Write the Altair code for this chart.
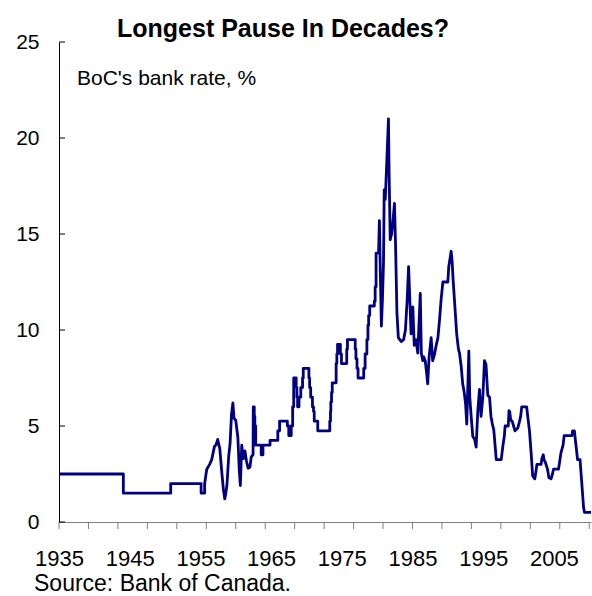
import altair as alt
import pandas as pd

# Bank of Canada bank rate (%), turning points; repeated dates mark discrete rate changes
years = [
    1935.0, 1944.1, 1944.1, 1950.8, 1950.8, 1955.1, 1955.1, 1955.6, 1955.6,
    1955.8, 1955.9, 1956.3, 1956.6, 1956.8, 1957.0, 1957.2, 1957.45, 1957.6,
    1957.75, 1958.0, 1958.25, 1958.45, 1958.55, 1958.75, 1959.0, 1959.2, 1959.4,
    1959.6, 1959.75, 1960.0, 1960.3, 1960.5, 1960.65, 1960.85, 1961.05, 1961.3,
    1961.5, 1961.75, 1962.0, 1962.2, 1962.45, 1962.48, 1962.62, 1962.62, 1962.7,
    1962.7, 1962.82, 1962.82, 1963.6, 1963.6, 1963.85, 1963.85, 1964.85, 1964.85,
    1965.95, 1965.95, 1966.2, 1966.2, 1967.3, 1967.3, 1967.5, 1967.5, 1967.85,
    1967.85, 1968.05, 1968.05, 1968.2, 1968.2, 1968.55, 1968.55, 1968.65, 1968.65,
    1968.75, 1968.75, 1968.95, 1968.95, 1969.2, 1969.2, 1969.45, 1969.45, 1969.55,
    1969.55, 1970.35, 1970.35, 1970.45, 1970.45, 1970.6, 1970.6, 1970.85, 1970.85,
    1971.0, 1971.0, 1971.1, 1971.1, 1971.6, 1971.6, 1973.3, 1973.3, 1973.4,
    1973.4, 1973.45, 1973.45, 1973.55, 1973.55, 1973.65, 1973.65, 1974.2, 1974.2,
    1974.3, 1974.3, 1974.4, 1974.4, 1974.8, 1974.8, 1974.95, 1974.95, 1975.7,
    1975.7, 1975.8, 1975.8, 1976.9, 1976.9, 1977.0, 1977.0, 1977.15, 1977.15,
    1977.3, 1977.3, 1978.1, 1978.1, 1978.3, 1978.3, 1978.55, 1978.55, 1978.7,
    1978.7, 1978.8, 1978.8, 1978.95, 1978.95, 1979.6, 1979.6, 1979.72, 1979.72,
    1979.85, 1979.85, 1980.2, 1980.32, 1980.45, 1980.6, 1980.75, 1980.9, 1981.0,
    1981.15, 1981.4, 1981.6, 1981.7, 1981.85, 1982.05, 1982.2, 1982.45, 1982.6,
    1982.8, 1983.0, 1983.4, 1983.75, 1984.0, 1984.25, 1984.45, 1984.55, 1984.8,
    1985.05, 1985.25, 1985.5, 1985.75, 1986.1, 1986.25, 1986.45, 1986.6, 1986.8,
    1987.0, 1987.15, 1987.35, 1987.64, 1987.85, 1988.1, 1988.35, 1988.6, 1988.82,
    1989.05, 1989.3, 1990.0, 1990.13, 1990.47, 1990.6, 1990.75, 1991.0, 1991.25,
    1991.5, 1991.65, 1991.89, 1992.1, 1992.3, 1992.5, 1992.68, 1992.97, 1993.1,
    1993.3, 1993.53, 1993.8, 1994.0, 1994.24, 1994.48, 1994.7, 1994.95, 1995.18,
    1995.4, 1995.65, 1995.9, 1996.1, 1996.3, 1996.5, 1996.85, 1997.55, 1997.8,
    1998.0, 1998.1, 1998.55, 1998.65, 1998.75, 1998.9, 1999.1, 1999.3, 1999.5,
    1999.9, 2000.15, 2000.3, 2000.45, 2001.15, 2001.3, 2001.55, 2001.8, 2002.0,
    2002.3, 2002.45, 2002.6, 2003.2, 2003.3, 2003.5, 2003.6, 2003.8, 2004.1,
    2004.3, 2004.6, 2004.8, 2004.95, 2005.65, 2005.8, 2006.0, 2006.3, 2006.45,
    2007.55, 2007.65, 2007.9, 2008.0, 2008.2, 2008.35, 2008.7, 2008.85, 2009.0,
    2009.1, 2009.2, 2009.33, 2010.25,
]
rates = [
    2.5, 2.5, 1.5, 1.5, 2.0, 2.0, 1.5, 1.5, 2.0,
    2.5, 2.75, 3.0, 3.25, 3.6, 3.95, 4.0, 4.3, 4.05,
    3.8, 2.7, 1.7, 1.2, 1.4, 1.9, 3.4, 4.1, 5.6,
    6.2, 5.4, 5.3, 4.4, 2.7, 1.9, 4.0, 3.3, 3.7,
    3.2, 2.8, 2.85, 3.4, 3.5, 6.0, 6.0, 5.5, 5.5,
    5.0, 5.0, 4.0, 4.0, 3.5, 3.5, 4.0, 4.0, 4.25,
    4.25, 4.75, 4.75, 5.25, 5.25, 5.0, 5.0, 4.5, 4.5,
    5.0, 5.0, 6.0, 6.0, 7.5, 7.5, 7.0, 7.0, 6.5,
    6.5, 6.0, 6.0, 6.5, 6.5, 7.0, 7.0, 7.5, 7.5,
    8.0, 8.0, 7.5, 7.5, 7.0, 7.0, 6.5, 6.5, 6.0,
    6.0, 5.75, 5.75, 5.25, 5.25, 4.75, 4.75, 5.25, 5.25,
    5.75, 5.75, 6.25, 6.25, 6.75, 6.75, 7.25, 7.25, 8.25,
    8.25, 8.75, 8.75, 9.25, 9.25, 8.75, 8.75, 8.25, 8.25,
    9.0, 9.0, 9.5, 9.5, 9.0, 9.0, 8.5, 8.5, 8.0,
    8.0, 7.5, 7.5, 8.0, 8.0, 8.75, 8.75, 9.5, 9.5,
    10.25, 10.25, 10.75, 10.75, 11.25, 11.25, 11.5, 11.5, 12.25,
    12.25, 14.0, 14.0, 15.7, 13.0, 10.2, 11.6, 13.5, 17.3,
    16.8, 19.1, 21.0, 18.0, 14.7, 15.0, 15.5, 16.6, 14.5,
    10.9, 9.6, 9.4, 9.5, 10.0, 11.6, 13.3, 12.3, 9.8,
    11.2, 9.2, 9.5, 8.8, 11.9, 8.8, 8.4, 8.6, 8.4,
    7.75, 7.2, 8.6, 9.6, 8.4, 8.7, 9.2, 9.6, 10.5,
    11.6, 12.5, 12.5, 13.3, 14.1, 13.6, 12.6, 11.2, 9.8,
    9.0, 8.8, 8.1, 7.2, 6.8, 6.2, 5.1, 8.9, 6.5,
    5.5, 4.45, 4.3, 3.9, 5.8, 6.9, 5.5, 6.5, 8.4,
    8.2, 6.6, 6.5, 5.5, 5.1, 4.8, 3.25, 3.25, 4.0,
    4.5, 5.0, 5.0, 5.8, 5.75, 5.3, 5.25, 5.0, 4.75,
    4.9, 5.25, 5.5, 6.0, 6.0, 5.5, 4.75, 3.5, 2.4,
    2.25, 2.6, 3.0, 3.0, 3.3, 3.5, 3.25, 3.1, 2.75,
    2.3, 2.25, 2.5, 2.75, 2.75, 3.1, 3.6, 4.0, 4.5,
    4.5, 4.75, 4.75, 4.4, 3.75, 3.25, 3.25, 2.5, 1.75,
    1.25, 0.75, 0.5, 0.5,
]

label_years = [1935, 1945, 1955, 1965, 1975, 1985, 1995, 2005]
x_tick_years = [1935 + k * 50 / 12 for k in range(19)]
y_ticks = [0, 5, 10, 15, 20, 25]

FONT = "Liberation Sans"
NAVY = "#000080"
GREY = "#808080"

df = pd.DataFrame({"year": years, "rate": rates, "seq": list(range(len(years)))})

x_scale = alt.Scale(domain=[1935, 2010.25], nice=False, zero=False)
y_scale = alt.Scale(domain=[0, 25], nice=False)

line = alt.Chart(df).mark_line(color=NAVY, strokeWidth=2.8, strokeJoin="round").encode(
    x=alt.X(
        "year:Q",
        scale=x_scale,
        axis=alt.Axis(
            values=label_years, format="d", ticks=False, grid=False, title=None,
            domainColor=GREY, domainWidth=1, labelFontSize=22, labelColor="black",
            labelPadding=26, labelFlush=False, labelOverlap=False, labelFont=FONT,
        ),
    ),
    y=alt.Y(
        "rate:Q",
        scale=y_scale,
        axis=alt.Axis(
            values=y_ticks, ticks=False, grid=False, title=None,
            domainColor="black", domainWidth=1, labelFontSize=21, labelColor="black",
            labelPadding=20, labelFont=FONT,
        ),
    ),
    order="seq:Q",
)

# outward x ticks every 50 months, inward y ticks
x_ticks = alt.Chart(pd.DataFrame({"t": x_tick_years})).mark_rule(color=GREY, strokeWidth=1).encode(
    x=alt.X("t:Q", scale=x_scale), y=alt.value(480), y2=alt.value(487)
)
y_tick_marks = alt.Chart(pd.DataFrame({"v": y_ticks})).mark_rule(color="black", strokeWidth=1).encode(
    y=alt.Y("v:Q", scale=y_scale), x=alt.value(0), x2=alt.value(6)
)

title = alt.Chart(pd.DataFrame({"s": ["Longest Pause In Decades?"]})).mark_text(
    font=FONT, fontSize=25, fontWeight="bold", align="center", baseline="alphabetic", color="black"
).encode(text="s:N", x=alt.value(224), y=alt.value(-5))

unit = alt.Chart(pd.DataFrame({"s": ["BoC's bank rate, %"]})).mark_text(
    font=FONT, fontSize=21, align="left", baseline="alphabetic", color="black"
).encode(text="s:N", x=alt.value(18), y=alt.value(43))

source = alt.Chart(pd.DataFrame({"s": ["Source: Bank of Canada."]})).mark_text(
    font=FONT, fontSize=23, align="left", baseline="alphabetic", color="black"
).encode(text="s:N", x=alt.value(-25), y=alt.value(549))

chart = alt.layer(line, x_ticks, y_tick_marks, title, unit, source).properties(
    width=532,
    height=480,
    autosize=alt.AutoSizeParams(type="none"),
    padding={"left": 59, "top": 42, "right": 1, "bottom": 74},
    background="white",
).configure_view(stroke=None)

chart.save("out.html", embed_options={"renderer": "svg", "actions": False})
